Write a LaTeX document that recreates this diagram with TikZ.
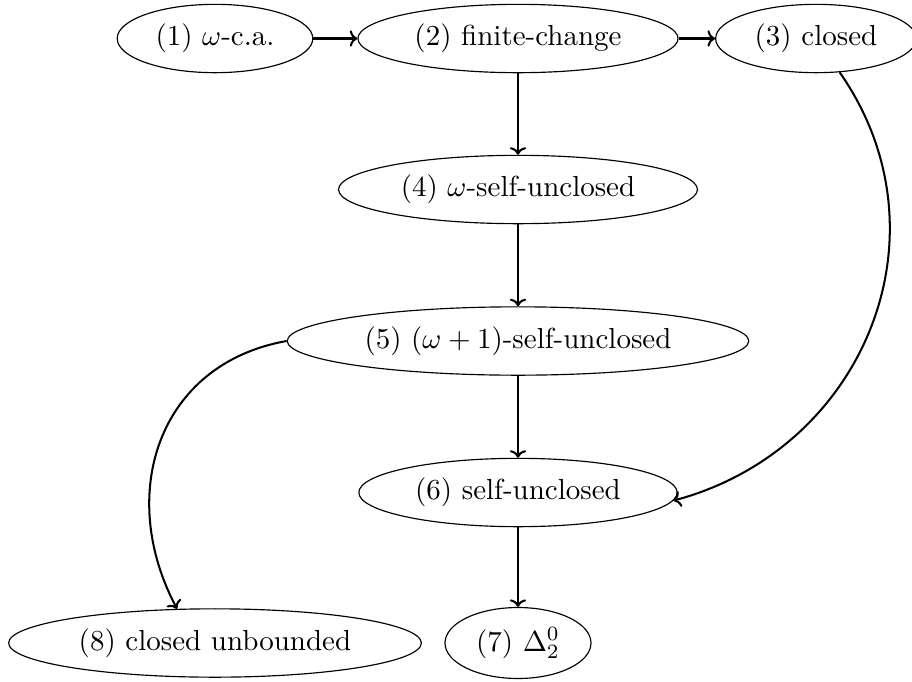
\documentclass[tikz,border=0pt]{standalone}
\usetikzlibrary{shapes.geometric,arrows.meta}
\begin{document}
\begin{tikzpicture}[x=0.3448pt,y=0.3448pt,
  state/.style={draw, ellipse, line width=0.4pt},
  edge/.style={-{To[length=2.6pt,width=5.6pt]}, line width=0.7pt}]
\useasboundingbox (0,0) rectangle (912,-682);
\node[state] (n1) at (215,-38.5) {(1) $\omega$-c.a.};
\node[state] (n2) at (518,-38.5) {(2) finite-change};
\node[state] (n3) at (816,-38.5) {(3) closed};
\node[state] (n4) at (518,-189.5) {(4) $\omega$-self-unclosed};
\node[state] (n5) at (518,-341) {(5) $(\omega+1)$-self-unclosed};
\node[state] (n6) at (518,-492.5) {(6) self-unclosed};
\node[state] (n7) at (518,-643) {(7) $\Delta^0_2$};
\node[state] (n8) at (215,-643) {(8) closed unbounded};
\draw[edge] (n1) -- (n2);
\draw[edge] (n2) -- (n3);
\draw[edge] (n2) -- (n4);
\draw[edge] (n4) -- (n5);
\draw[edge] (n5) -- (n6);
\draw[edge] (n6) -- (n7);
\draw[edge] (n3.-55) to[out=-55,in=15,looseness=1.1] (n6.-3.5);
\draw[edge] (n5.west) to[out=190,in=118,looseness=1.15] (n8.138);
\end{tikzpicture}
\end{document}
